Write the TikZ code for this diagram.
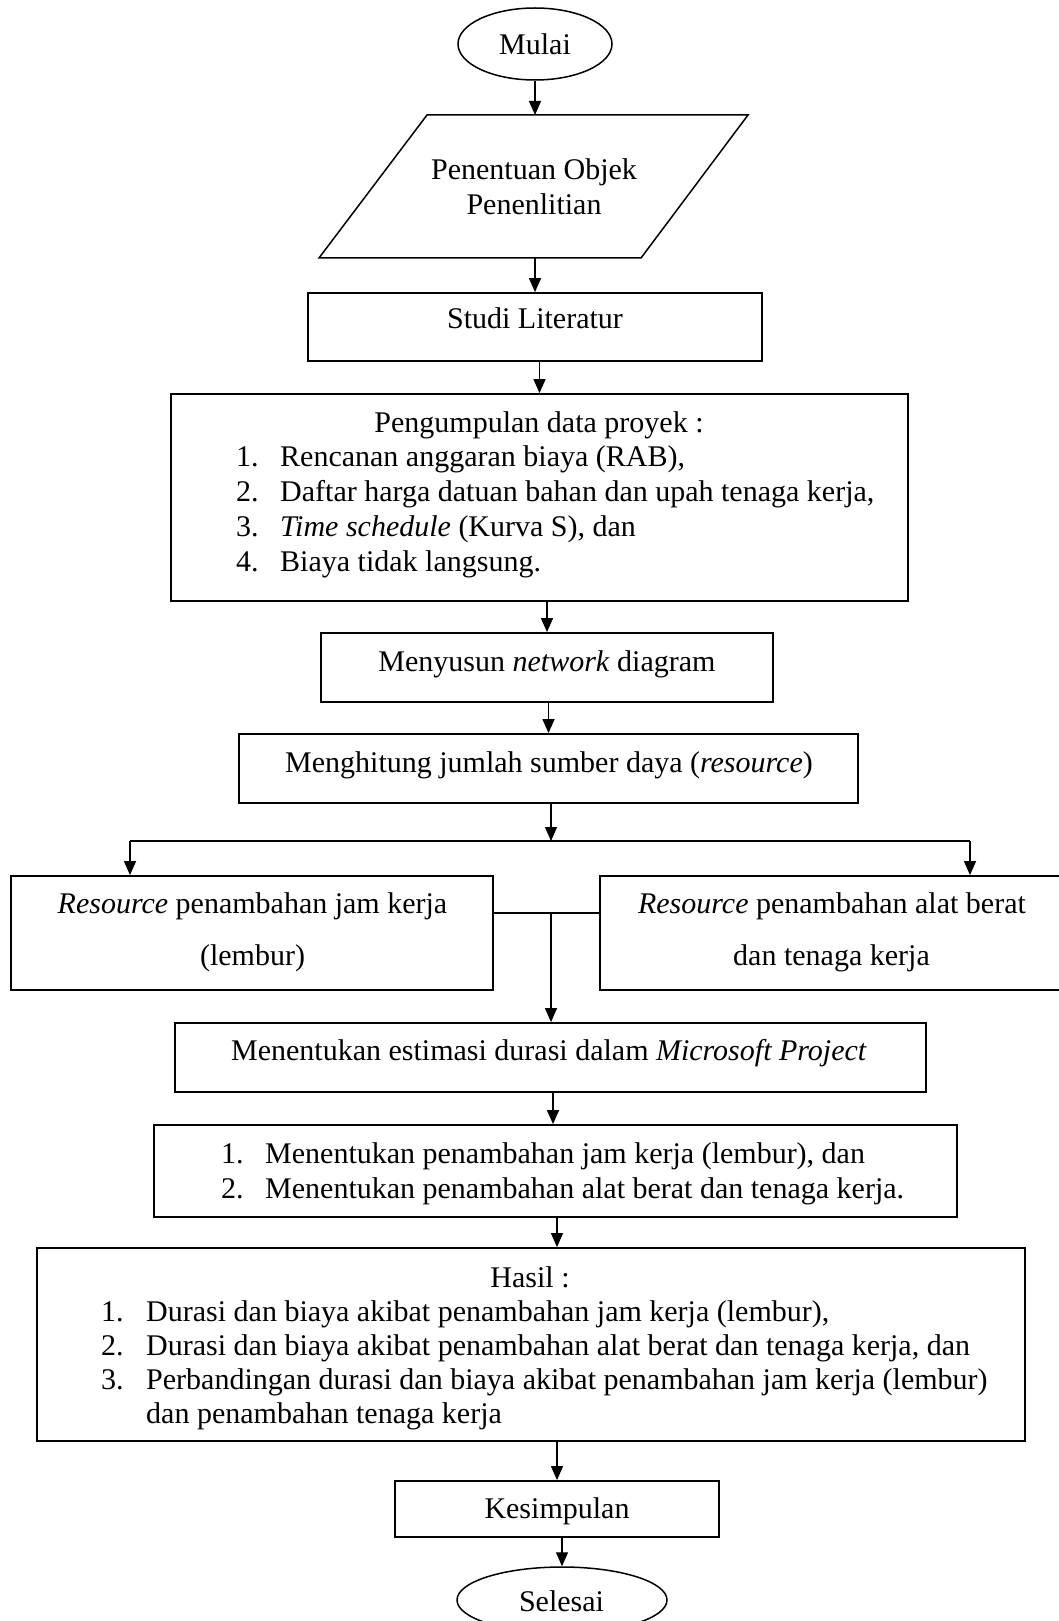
\documentclass[tikz,border=0pt]{standalone}
\usepackage{fontspec}
\setmainfont{Liberation Serif}
\usetikzlibrary{shapes.geometric,arrows.meta}
\begin{document}
\begin{tikzpicture}[x=1pt,y=-1pt,
  every node/.style={font=\fontsize{30}{34.7}\selectfont},
  box/.style={draw,line width=1.8pt,inner sep=0pt,rectangle},
  term/.style={draw,line width=1.5pt,ellipse,inner sep=0pt},
  txt/.style={anchor=base,inner sep=0pt},
  item/.style={anchor=base west,inner sep=0pt},
  arr/.style={line width=1.3pt,-{Triangle[length=14pt,width=12pt]}},
  conn/.style={line width=1.3pt}]
\useasboundingbox (0,0) rectangle (1058,1621);
\fill[white] (0,0) rectangle (1058,1621);

% start
\node[term,minimum width=154pt,minimum height=72pt] (mulai) at (535,44) {Mulai};

% parallelogram
\coordinate (parTL) at (427,115);
\coordinate (parTR) at (748,115);
\coordinate (parBR) at (641,258);
\coordinate (parBL) at (319,258);
\draw[line width=1.5pt] (parTL) -- (parTR) -- (parBR) -- (parBL) -- cycle;
\coordinate (partop) at (535,115);
\coordinate (parbot) at (535,258);
\node[txt] (par1) at (534,180) {Penentuan Objek};
\node[txt] (par2) at (534,215) {Penenlitian};

% boxes
\node[box,minimum width=454pt,minimum height=68pt] (studi) at (535,327) {};
\node[txt] (studit) at (535,328) {Studi Literatur};

\node[box,minimum width=737pt,minimum height=207pt] (peng) at (539.5,497.5) {};
\node[txt] (pengt) at (539,432) {Pengumpulan data proyek :};
\node[item] (pn1) at (236,466.5) {1.};
\node[item] (pi1) at (280,466.5) {Rencanan anggaran biaya (RAB),};
\node[item] (pn2) at (236,501) {2.};
\node[item] (pi2) at (280,501) {Daftar harga datuan bahan dan upah tenaga kerja,};
\node[item] (pn3) at (236,536) {3.};
\node[item] (pi3) at (280,536) {\textit{Time schedule} (Kurva S), dan};
\node[item] (pn4) at (236,571) {4.};
\node[item] (pi4) at (280,571) {Biaya tidak langsung.};

\node[box,minimum width=452pt,minimum height=69pt] (meny) at (547,667.5) {};
\node[txt] (menyt) at (547,671) {Menyusun \textit{network} diagram};

\node[box,minimum width=619pt,minimum height=69pt] (mengh) at (548.5,768.5) {};
\node[txt] (menght) at (549,772) {Menghitung jumlah sumber daya (\textit{resource})};

\node[box,minimum width=482pt,minimum height=114pt] (resl) at (252,933) {};
\node[txt] (resl1) at (252.5,913) {\textit{Resource} penambahan jam kerja};
\node[txt] (resl2) at (252.5,965) {(lembur)};

\node[box,minimum width=464pt,minimum height=114pt] (resr) at (832,933) {};
\node[txt] (resr1) at (832,913) {\textit{Resource} penambahan alat berat};
\node[txt] (resr2) at (831.5,965) {dan tenaga kerja};

\node[box,minimum width=751pt,minimum height=69pt] (mest) at (550.5,1057.5) {};
\node[txt] (mestt) at (549,1060) {Menentukan estimasi durasi dalam \textit{Microsoft Project}};

\node[box,minimum width=803pt,minimum height=92pt] (mpen) at (555.5,1171) {};
\node[item] (mn1) at (221,1163) {1.};
\node[item] (mi1) at (265,1163) {Menentukan penambahan jam kerja (lembur), dan};
\node[item] (mn2) at (221,1198) {2.};
\node[item] (mi2) at (265,1198) {Menentukan penambahan alat berat dan tenaga kerja.};

\node[box,minimum width=988pt,minimum height=193pt] (hasil) at (531,1344.5) {};
\node[txt] (hasilt) at (530,1287) {Hasil :};
\node[item] (hn1) at (101,1321) {1.};
\node[item] (hi1) at (146,1321) {Durasi dan biaya akibat penambahan jam kerja (lembur),};
\node[item] (hn2) at (101,1355) {2.};
\node[item] (hi2) at (146,1355) {Durasi dan biaya akibat penambahan alat berat dan tenaga kerja, dan};
\node[item] (hn3) at (101,1389) {3.};
\node[item] (hi3) at (146,1389) {Perbandingan durasi dan biaya akibat penambahan jam kerja (lembur)};
\node[item] (hi3b) at (146,1423) {dan penambahan tenaga kerja};

\node[box,minimum width=324pt,minimum height=56pt] (kes) at (557,1509) {};
\node[txt] (kest) at (557,1518) {Kesimpulan};

\node[term,minimum width=210pt,minimum height=66pt] (selesai) at (562,1600) {};
\node[txt] (selesait) at (561.5,1611) {Selesai};

% connectors
\draw[arr] (mulai.south) -- (partop);
\draw[arr] (parbot) -- (studi.north);
\draw[arr] (peng.north |- studi.south) -- (peng.north);
\draw[arr] (meny.north |- peng.south) -- (meny.north);
\draw[arr] (mengh.north |- meny.south) -- (mengh.north);

\coordinate (split) at (551,841);
\coordinate (bl) at (130,841);
\coordinate (br) at (970,841);
\draw[arr] (split |- mengh.south) -- (split);
\draw[conn] (bl) -- (br);
\draw[arr] (bl) -- (bl |- resl.north);
\draw[arr] (br) -- (br |- resr.north);

\coordinate (mid) at (551,913);
\draw[conn] (resl.east |- mid) -- (resr.west |- mid);
\draw[arr] (mid) -- (mid |- mest.north);

\coordinate (c1) at (553,1100);
\draw[arr] (c1 |- mest.south) -- (c1 |- mpen.north);
\draw[arr] (kes.north |- mpen.south) -- (kes.north |- hasil.north);
\draw[arr] (kes.north |- hasil.south) -- (kes.north);
\draw[arr] (selesai.north |- kes.south) -- (selesai.north);
\end{tikzpicture}
\end{document}
